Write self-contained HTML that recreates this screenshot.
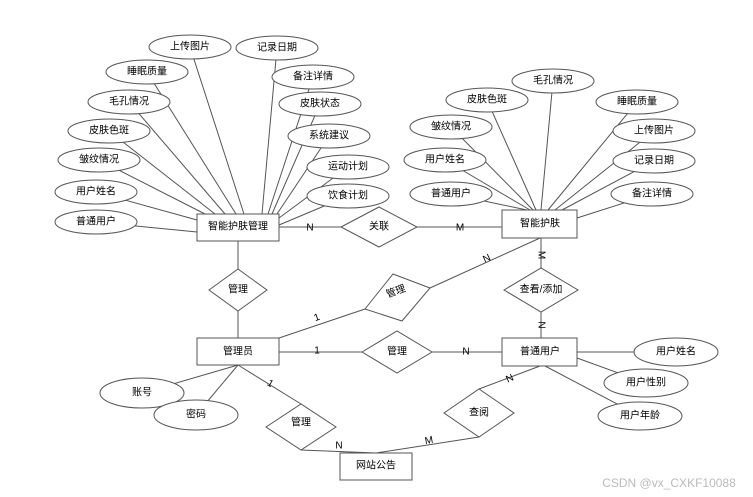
<!DOCTYPE html>
<html><head><meta charset="utf-8"><style>
html,body{margin:0;padding:0;background:#fff;width:753px;height:497px;overflow:hidden}
svg text{font-family:"Liberation Sans","Noto Sans CJK SC",sans-serif;font-size:10px;fill:#000;text-anchor:middle;dominant-baseline:central}
</style></head><body>
<svg width="753" height="497" viewBox="0 0 753 497" xmlns="http://www.w3.org/2000/svg">
<g stroke="#555" stroke-width="1" fill="none">
<line x1="96" y1="222" x2="197" y2="232"/>
<line x1="96" y1="192" x2="197" y2="220"/>
<line x1="99" y1="160" x2="205" y2="214"/>
<line x1="109" y1="131" x2="215" y2="214"/>
<line x1="129" y1="102" x2="225" y2="214"/>
<line x1="147" y1="72" x2="236" y2="214"/>
<line x1="190" y1="47" x2="244" y2="214"/>
<line x1="277" y1="48" x2="262" y2="214"/>
<line x1="313" y1="77" x2="268" y2="214"/>
<line x1="320" y1="104" x2="272" y2="214"/>
<line x1="329" y1="136" x2="277" y2="214"/>
<line x1="348" y1="167" x2="279" y2="218"/>
<line x1="348" y1="196" x2="279" y2="225"/>
<line x1="451" y1="194" x2="527" y2="210"/>
<line x1="445" y1="160" x2="530" y2="210"/>
<line x1="451" y1="127" x2="533" y2="210"/>
<line x1="487" y1="100" x2="536" y2="210"/>
<line x1="553" y1="81" x2="541" y2="210"/>
<line x1="637" y1="102" x2="548" y2="210"/>
<line x1="654" y1="131" x2="555" y2="210"/>
<line x1="654" y1="161" x2="562" y2="210"/>
<line x1="652" y1="194" x2="577" y2="218"/>
<line x1="279" y1="227" x2="502" y2="227"/>
<line x1="238" y1="241" x2="238" y2="338"/>
<line x1="279" y1="338" x2="365" y2="309"/>
<line x1="430" y1="288" x2="540" y2="238"/>
<line x1="541" y1="238" x2="541" y2="338"/>
<line x1="279" y1="352" x2="502" y2="352"/>
<line x1="577" y1="352" x2="676" y2="352"/>
<line x1="577" y1="358" x2="646" y2="383"/>
<line x1="545" y1="366" x2="640" y2="416"/>
<line x1="238" y1="365" x2="142" y2="393"/>
<line x1="238" y1="365" x2="196" y2="415"/>
<line x1="238" y1="365" x2="301" y2="404"/>
<line x1="301" y1="450" x2="376" y2="453"/>
<line x1="540" y1="366" x2="479" y2="389"/>
<line x1="479" y1="437" x2="376" y2="453"/>
</g>
<g stroke="#555" stroke-width="1" fill="#fff">
<ellipse cx="190" cy="47" rx="41" ry="12"/>
<ellipse cx="277" cy="48" rx="41" ry="12"/>
<ellipse cx="147" cy="72" rx="41" ry="12"/>
<ellipse cx="313" cy="77" rx="41" ry="12"/>
<ellipse cx="129" cy="102" rx="41" ry="12"/>
<ellipse cx="320" cy="104" rx="41" ry="12"/>
<ellipse cx="109" cy="131" rx="41" ry="12"/>
<ellipse cx="329" cy="136" rx="41" ry="12"/>
<ellipse cx="99" cy="160" rx="41" ry="12"/>
<ellipse cx="348" cy="167" rx="41" ry="12"/>
<ellipse cx="96" cy="192" rx="41" ry="12"/>
<ellipse cx="348" cy="196" rx="41" ry="12"/>
<ellipse cx="96" cy="222" rx="41" ry="12"/>
<ellipse cx="553" cy="81" rx="41" ry="12"/>
<ellipse cx="487" cy="100" rx="41" ry="12"/>
<ellipse cx="637" cy="102" rx="41" ry="12"/>
<ellipse cx="451" cy="127" rx="41" ry="12"/>
<ellipse cx="654" cy="131" rx="41" ry="12"/>
<ellipse cx="445" cy="160" rx="41" ry="12"/>
<ellipse cx="654" cy="161" rx="41" ry="12"/>
<ellipse cx="451" cy="194" rx="41" ry="12"/>
<ellipse cx="652" cy="194" rx="41" ry="12"/>
<ellipse cx="676" cy="352" rx="42" ry="14"/>
<ellipse cx="646" cy="383" rx="42" ry="14"/>
<ellipse cx="640" cy="416" rx="42" ry="14"/>
<ellipse cx="142" cy="393" rx="42" ry="15"/>
<ellipse cx="196" cy="415" rx="42" ry="15"/>
<rect x="197" y="214" width="82" height="27"/>
<rect x="502" y="210" width="75" height="28"/>
<rect x="197" y="338" width="82" height="27"/>
<rect x="502" y="338" width="75" height="28"/>
<rect x="340" y="453" width="72" height="27"/>
<polygon points="341,227 379,207 417,227 379,247"/>
<polygon points="209,290 238,269 267,290 238,311"/>
<polygon points="365,309 393,274 430,288 402,321"/>
<polygon points="504,290 541,268 578,290 541,312"/>
<polygon points="362,352 397,331 432,352 397,373"/>
<polygon points="266,427 301,404 336,427 301,450"/>
<polygon points="444,413 479,389 514,413 479,437"/>
</g>
<g>
<text x="190" y="47">上传图片</text>
<text x="277" y="48">记录日期</text>
<text x="147" y="72">睡眠质量</text>
<text x="313" y="77">备注详情</text>
<text x="129" y="102">毛孔情况</text>
<text x="320" y="104">皮肤状态</text>
<text x="109" y="131">皮肤色斑</text>
<text x="329" y="136">系统建议</text>
<text x="99" y="160">皱纹情况</text>
<text x="348" y="167">运动计划</text>
<text x="96" y="192">用户姓名</text>
<text x="348" y="196">饮食计划</text>
<text x="96" y="222">普通用户</text>
<text x="553" y="81">毛孔情况</text>
<text x="487" y="100">皮肤色斑</text>
<text x="637" y="102">睡眠质量</text>
<text x="451" y="127">皱纹情况</text>
<text x="654" y="131">上传图片</text>
<text x="445" y="160">用户姓名</text>
<text x="654" y="161">记录日期</text>
<text x="451" y="194">普通用户</text>
<text x="652" y="194">备注详情</text>
<text x="676" y="352">用户姓名</text>
<text x="646" y="383">用户性别</text>
<text x="640" y="416">用户年龄</text>
<text x="142" y="393">账号</text>
<text x="196" y="415">密码</text>
<text x="238" y="227">智能护肤管理</text>
<text x="540" y="224">智能护肤</text>
<text x="238" y="352">管理员</text>
<text x="540" y="352">普通用户</text>
<text x="376" y="466">网站公告</text>
<text x="379" y="227">关联</text>
<text x="238" y="290">管理</text>
<text x="396" y="292" transform="rotate(-20 396 292)">管理</text>
<text x="541" y="290">查看/添加</text>
<text x="397" y="352">管理</text>
<text x="301" y="423">管理</text>
<text x="479" y="413">查阅</text>
<text x="310" y="228">N</text>
<text x="460" y="228">M</text>
<text x="317" y="318" transform="rotate(-20 317 318)">1</text>
<text x="487" y="259" transform="rotate(-25 487 259)">N</text>
<text x="541" y="255" transform="rotate(90 541 255)">M</text>
<text x="541" y="325" transform="rotate(90 541 325)">N</text>
<text x="317" y="351">1</text>
<text x="466" y="352">N</text>
<text x="270" y="384" transform="rotate(30 270 384)">1</text>
<text x="339" y="446">N</text>
<text x="510" y="379" transform="rotate(-25 510 379)">N</text>
<text x="429" y="441" transform="rotate(-10 429 441)">M</text>
<text x="669" y="483" style="fill:#bbb;font-size:12px">CSDN @vx_CXKF10088</text>
</g>
</svg>
</body></html>
